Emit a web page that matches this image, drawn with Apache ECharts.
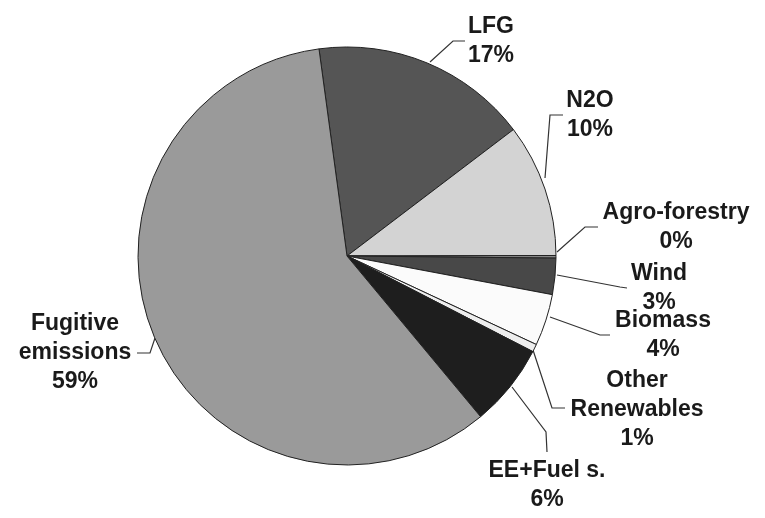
<!DOCTYPE html>
<html>
<head>
<meta charset="utf-8">
<script src="https://cdn.jsdelivr.net/npm/echarts@6/dist/echarts.min.js"></script>
<style>
  html, body { margin: 0; padding: 0; background: #fff; }
  #chart { width: 765px; height: 518px; }
</style>
</head>
<body>
<div id="chart"></div>
<script>
// slices, clockwise from the top
const names = ['LFG', 'N2O', 'Agro-forestry', 'Wind', 'Biomass', 'Other\nRenewables', 'EE+Fuel s.', 'Fugitive\nemissions'];
const shares = [16.8, 10.3, 0.2, 2.8, 4.0, 0.6, 6.4, 58.9];
const sliceColors = ['#555555', '#d3d3d3', '#888888', '#484848', '#fbfbfb', '#eeeeee', '#1e1e1e', '#9a9a9a'];

// label block centres and leader lines (layout only)
const labelPos = [[491, 41], [590, 115], [676, 227], [659, 288], [663, 335], [637, 410], [547, 485], [75, 353]];
const leaders = [
  [[430, 62], [453, 41], [465, 41]],
  [[545, 178], [550, 115], [563, 115]],
  [[557, 252], [585, 227], [598, 227]],
  [[557, 275], [620, 287], [627, 288]],
  [[550, 317], [600, 335], [610, 335]],
  [[533, 350], [552, 408], [565, 408]],
  [[512, 387], [546, 432], [547, 452]],
  [[155, 338], [150, 353], [137, 353]]
];

const chart = echarts.init(document.getElementById('chart'));
chart.setOption({
  backgroundColor: '#ffffff',
  animation: false,
  series: [{
    type: 'pie',
    center: [347, 256],
    radius: 209,
    startAngle: 97.7,
    clockwise: true,
    minAngle: 0,
    avoidLabelOverlap: false,
    data: names.map((n, i) => ({ name: n, value: shares[i], itemStyle: { color: sliceColors[i] } })),
    itemStyle: { borderColor: '#222', borderWidth: 1 },
    label: {
      show: true,
      position: 'outside',
      formatter: p => p.name + '\n' + Math.round(p.value) + '%',
      fontFamily: 'Arial, "Liberation Sans", sans-serif',
      fontWeight: 'bold',
      fontSize: 23,
      lineHeight: 29,
      color: '#1a1a1a',
      align: 'center'
    },
    labelLine: { show: true, smooth: false, lineStyle: { color: '#333', width: 1.2 } },
    labelLayout: params => {
      const i = params.dataIndex;
      return {
        x: labelPos[i][0],
        y: labelPos[i][1],
        align: 'center',
        verticalAlign: 'middle',
        labelLinePoints: leaders[i]
      };
    },
    emphasis: { disabled: true }
  }]
});
</script>
</body>
</html>
